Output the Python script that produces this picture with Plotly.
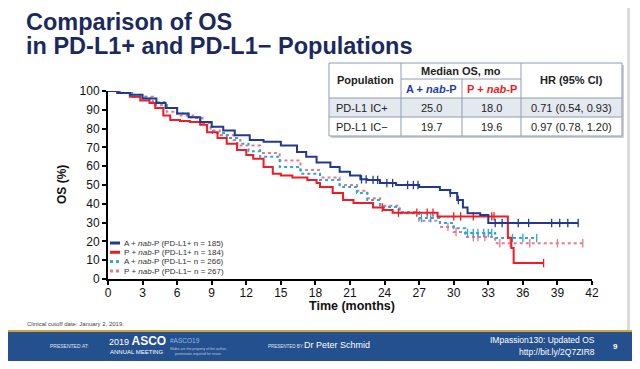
import numpy as np
import plotly.graph_objects as go

# ---------------- data ----------------
x_ticks = [0, 3, 6, 9, 12, 15, 18, 21, 24, 27, 30, 33, 36, 39, 42]
y_ticks = [0, 10, 20, 30, 40, 50, 60, 70, 80, 90, 100]

a_pos_t = [0, 0.8, 1.9, 3.0, 4.2, 5.0, 6.0, 7.0, 8.0, 9.0, 10.0, 11.0, 12.3, 13.5, 15.0, 16.4, 17.2,
           18.1, 19.3, 20.1, 21.0, 21.9, 22.5, 23.6, 25.0, 27.0, 28.8, 29.7, 30.3, 30.8, 31.2, 32.3, 33.0, 40.8]
a_pos_s = [100, 99, 98, 96, 93.6, 91, 88, 86, 83.5, 81, 79, 76.5, 74, 73, 71, 67.5, 65,
           62, 59.6, 57, 55, 53, 52.7, 51, 50, 49, 47.3, 45.7, 42, 38, 35, 34, 29.8, 29.8]
a_pos_cens = [22.0, 22.4, 23.0, 23.4, 24.2, 24.7, 26.0, 26.5, 26.9, 29.7, 30.4, 33.6, 34.2, 35.6,
              36.5, 38.5, 39.2, 39.9, 40.8]

p_pos_t = [0, 1.0, 1.9, 2.8, 3.6, 4.1, 4.8, 5.4, 6.25, 7.1, 8.0, 8.6, 9.5, 10.3, 11.2, 12.0, 12.6, 13.5,
           14.3, 15.0, 16.0, 17.3, 18.1, 18.4, 19.5, 20.4, 21.3, 23.0, 23.9, 24.7, 28.6, 34.7, 35.0, 35.2, 37.8]
p_pos_s = [100, 99, 97, 95, 93.6, 91, 87, 84.6, 84, 83.5, 82, 78, 75, 72, 68.6, 66, 64, 59.6,
           56, 55, 54, 52.7, 51, 49, 45.7, 42, 40.4, 38, 36.7, 35.3, 33.3, 22, 16.5, 8.5, 8.5]
p_pos_cens = [23.8, 25.2, 26.8, 27.7, 28.2, 30.0, 30.6, 31.7, 33.3, 33.5, 37.8]

a_neg_t = [0, 1.0, 2.2, 3.6, 5.1, 6.0, 6.9, 8.0, 8.6, 9.1, 10.3, 11.2, 12.2, 13.2, 14.9, 16.7, 18.4,
           20.1, 21.6, 22.5, 23.6, 25.3, 27.0, 28.8, 30.0, 31.0, 33.6, 37.2]
a_neg_s = [100, 99, 97, 94, 91, 88, 86, 83.5, 81, 77.7, 75, 72, 68, 65, 59.6, 56, 52.7,
           49, 45.7, 42, 38.3, 35, 32.4, 29.8, 27, 24.5, 21.8, 21.8]
a_neg_cens = [27.2, 28.0, 31.2, 31.7, 32.1, 32.6, 33.0, 33.3, 35.1, 36.0, 37.2]

p_neg_t = [0, 1.0, 2.2, 3.9, 5.1, 6.0, 7.4, 8.2, 8.9, 9.7, 10.9, 11.5, 13.2, 14.9, 16.7, 18.4, 20.1,
           21.6, 22.5, 23.6, 25.3, 27.0, 28.8, 30.0, 31.0, 33.6, 41.4]
p_neg_s = [100, 99, 97, 92.5, 89, 87, 85.6, 83, 79, 76.6, 74, 71, 67, 63, 58, 54, 50,
           47, 43, 39, 35.6, 31, 27.7, 25, 22.3, 19, 19]
p_neg_cens = [29.5, 30.2, 31.7, 32.1, 32.7, 34.0, 34.9, 36.6, 39.0, 41.2]

legend_labels = ["A + <i>nab</i>-P (PD-L1+ n = 185)", "P + <i>nab</i>-P (PD-L1+ n = 184)",
                 "A + <i>nab</i>-P (PD-L1\u2212 n = 266)", "P + <i>nab</i>-P (PD-L1\u2212 n = 267)"]

table_rows = ["PD-L1 IC+", "PD-L1 IC\u2212"]
table_a = ["25.0", "19.7"]
table_p = ["18.0", "19.6"]
table_hr = ["0.71 (0.54, 0.93)", "0.97 (0.78, 1.20)"]

# ---------------- styles ----------------
BLUE = "#22398f"
RED = "#ee1c25"
CYAN = "#2aa8e0"
PINK = "#e57b86"
NAVY = "#1b2a5e"
FONT = "Arial, Liberation Sans, sans-serif"

# the page body has an 8px margin: figure is placed at (8, 8) in the window
OFF = 8
W, H = 640 - OFF, 369 - OFF
L, R, T, B = 108 - OFF, 48, 91 - OFF, 90
PW, PH = W - L - R, H - T - B


def px(x):  # window pixel -> paper x
    return (x - OFF - L) / PW


def py(y):  # window pixel -> paper y
    return (H - B - (y - OFF)) / PH


def step_at(t, s, tc):
    t = np.asarray(t); s = np.asarray(s)
    idx = np.searchsorted(t, np.asarray(tc), side="right") - 1
    return s[idx]


fig = go.Figure()

series = [
    (p_neg_t, p_neg_s, p_neg_cens, PINK, "dot", legend_labels[3]),
    (a_neg_t, a_neg_s, a_neg_cens, CYAN, "dot", legend_labels[2]),
    (p_pos_t, p_pos_s, p_pos_cens, RED, "solid", legend_labels[1]),
    (a_pos_t, a_pos_s, a_pos_cens, BLUE, "solid", legend_labels[0]),
]
for t, s, c, col, dash, name in series:
    fig.add_trace(go.Scatter(x=t, y=s, mode="lines", line=dict(color=col, width=2, dash=dash, shape="hv"),
                             name=name, showlegend=False, hoverinfo="skip"))
    fig.add_trace(go.Scatter(x=c, y=step_at(t, s, c), mode="markers",
                             marker=dict(symbol="line-ns-open", size=6, color=col, line=dict(color=col, width=1.3)),
                             showlegend=False, hoverinfo="skip", cliponaxis=False))

shapes = []
ann = []

# title
ann.append(dict(text="<b>Comparison of OS</b>", x=px(24), y=py(22), xanchor="left", yanchor="middle",
                font=dict(size=23.5, color=NAVY, family=FONT)))
ann.append(dict(text="<b>in PD-L1+ and PD-L1\u2212 Populations</b>", x=px(24), y=py(46), xanchor="left",
                yanchor="middle", font=dict(size=23.5, color=NAVY, family=FONT)))

# axis titles
ann.append(dict(text="<b>OS (%)</b>", x=px(62), y=py(185), textangle=-90, xanchor="center", yanchor="middle",
                font=dict(size=12, color="#111", family=FONT)))
ann.append(dict(text="<b>Time (months)</b>", x=px(352), y=py(306), xanchor="center", yanchor="middle",
                font=dict(size=12.5, color="#111", family=FONT)))

# manual legend
leg_y = [243, 252.3, 261.6, 271]
leg_cols = [(BLUE, "solid"), (RED, "solid"), (CYAN, "dot"), (PINK, "dot")]
for yy, (col, dash), lab in zip(leg_y, leg_cols, legend_labels):
    shapes.append(dict(type="line", xref="paper", yref="paper", x0=px(110), x1=px(120), y0=py(yy), y1=py(yy),
                       line=dict(color=col, width=3, dash=dash)))
    ann.append(dict(text=lab, x=px(122), y=py(yy), xanchor="left", yanchor="middle",
                    font=dict(size=8, color="#333", family=FONT)))

# table
tl, tr, tt, tb = 329, 622, 63, 136
c1, c2, c3 = 401, 462, 521
hm, hb, r1b = 79, 98, 117
GRID = "#8e9cb3"
shapes.append(dict(type="rect", xref="paper", yref="paper", x0=px(tl + 2), x1=px(tr + 2), y0=py(tt + 2), y1=py(tb + 2),
                   line=dict(width=0), fillcolor="#cfcfcf", layer="above"))
shapes.append(dict(type="rect", xref="paper", yref="paper", x0=px(tl), x1=px(tr), y0=py(tt), y1=py(tb),
                   line=dict(width=0), fillcolor="white", layer="above"))
shapes.append(dict(type="rect", xref="paper", yref="paper", x0=px(tl), x1=px(tr), y0=py(hb), y1=py(r1b),
                   line=dict(width=0), fillcolor="#e4e8ef", layer="above"))
gl = dict(color=GRID, width=1)
for (x0, y0, x1, y1) in [(tl, tt, tr, tt), (tl, tb, tr, tb), (tl, tt, tl, tb), (tr, tt, tr, tb),
                         (c1, tt, c1, tb), (c3, tt, c3, tb), (c2, hm, c2, tb), (c1, hm, c3, hm),
                         (tl, hb, tr, hb), (tl, r1b, tr, r1b)]:
    shapes.append(dict(type="line", xref="paper", yref="paper", x0=px(x0), x1=px(x1), y0=py(y0), y1=py(y1),
                       line=gl, layer="above"))
TF = 11
ann.append(dict(text="<b>Population</b>", x=px((tl + c1) / 2), y=py((tt + hb) / 2), showarrow=False,
                font=dict(size=TF, color="#222", family=FONT)))
ann.append(dict(text="<b>Median OS, mo</b>", x=px((c1 + c3) / 2), y=py((tt + hm) / 2 + 0.5),
                font=dict(size=TF, color="#222", family=FONT)))
ann.append(dict(text="<b>A + <i>nab</i>-P</b>", x=px((c1 + c2) / 2), y=py((hm + hb) / 2 + 0.5),
                font=dict(size=TF, color="#1f3ea6", family=FONT)))
ann.append(dict(text="<b>P + <i>nab</i>-P</b>", x=px((c2 + c3) / 2), y=py((hm + hb) / 2 + 0.5),
                font=dict(size=TF, color=RED, family=FONT)))
ann.append(dict(text="<b>HR (95% CI)</b>", x=px((c3 + tr) / 2), y=py((tt + hb) / 2),
                font=dict(size=TF, color="#222", family=FONT)))
for i, (ry0, ry1) in enumerate([(hb, r1b), (r1b, tb)]):
    yc = py((ry0 + ry1) / 2 + 0.5)
    ann.append(dict(text=table_rows[i], x=px((tl + c1) / 2 - 3), y=yc, font=dict(size=TF, color="#222", family=FONT)))
    ann.append(dict(text=table_a[i], x=px((c1 + c2) / 2), y=yc, font=dict(size=TF, color="#222", family=FONT)))
    ann.append(dict(text=table_p[i], x=px((c2 + c3) / 2), y=yc, font=dict(size=TF, color="#222", family=FONT)))
    ann.append(dict(text=table_hr[i], x=px((c3 + tr) / 2), y=yc, font=dict(size=TF, color="#222", family=FONT)))

# right page edge strip
shapes.append(dict(type="rect", xref="paper", yref="paper", x0=px(627), x1=px(630), y0=py(0), y1=py(331),
                   line=dict(width=0), fillcolor="#dcdcdc", layer="below"))

# footer
ann.append(dict(text="Clinical cutoff date: January 2, 2019.", x=px(25), y=py(324), xanchor="left",
                font=dict(size=6, color="#444", family=FONT)))
shapes.append(dict(type="rect", xref="paper", yref="paper", x0=px(0), x1=px(640), y0=py(331), y1=py(361),
                   line=dict(width=0), fillcolor="#25508e", layer="above"))
shapes.append(dict(type="rect", xref="paper", yref="paper", x0=px(0), x1=px(640), y0=py(330), y1=py(332),
                   line=dict(width=0), fillcolor="#cfa63c", layer="above"))
WH = "white"
ann += [
    dict(text="PRESENTED AT:", x=px(48), y=py(346), xanchor="left", font=dict(size=5, color="#dfe6f0", family=FONT)),
    dict(text="2019 <b><span style='font-size:12px'>ASCO</span></b>", x=px(107), y=py(341), xanchor="left",
         font=dict(size=9, color=WH, family=FONT)),
    dict(text="ANNUAL MEETING", x=px(108), y=py(352), xanchor="left", font=dict(size=6, color=WH, family=FONT)),
    dict(text="#ASCO19", x=px(168), y=py(340), xanchor="left", font=dict(size=6.5, color="#8dbbea", family=FONT)),
    dict(text="Slides are the property of the author,<br>permission required for reuse.", x=px(168), y=py(351),
         xanchor="left", font=dict(size=3.5, color="#b9cce6", family=FONT)),
    dict(text="PRESENTED BY:", x=px(266), y=py(346), xanchor="left", font=dict(size=4.5, color="#dfe6f0", family=FONT)),
    dict(text="Dr Peter Schmid", x=px(302), y=py(345), xanchor="left", font=dict(size=9, color=WH, family=FONT)),
    dict(text="IMpassion130: Updated OS", x=px(597), y=py(340), xanchor="right", font=dict(size=8.5, color=WH, family=FONT)),
    dict(text="http://bit.ly/2Q7ZIR8", x=px(597), y=py(352), xanchor="right", font=dict(size=8.5, color=WH, family=FONT)),
    dict(text="<b>9</b>", x=px(615), y=py(346), xanchor="center", font=dict(size=8, color=WH, family=FONT)),
]

for a in ann:
    a.setdefault("xref", "paper")
    a.setdefault("yref", "paper")
    a.setdefault("showarrow", False)
    a.setdefault("xanchor", "center")
    a.setdefault("yanchor", "middle")

fig.update_layout(
    width=W, height=H, margin=dict(l=L, r=R, t=T, b=B, autoexpand=False),
    paper_bgcolor="white", plot_bgcolor="white",
    font=dict(family=FONT, color="#111"),
    showlegend=False,
    shapes=shapes, annotations=ann,
    xaxis=dict(range=[0, 42], tickvals=x_ticks, ticktext=[str(v) for v in x_ticks], showgrid=False, zeroline=False,
               showline=True, linecolor="black", linewidth=2, ticks="outside", ticklen=4, tickwidth=1.5,
               tickcolor="black", tickfont=dict(size=12, color="#111"), ticklabelstandoff=-2),
    yaxis=dict(range=[0, 100], tickvals=y_ticks, ticktext=[str(v) for v in y_ticks], showgrid=False, zeroline=False,
               showline=True, linecolor="black", linewidth=2, ticks="outside", ticklen=4, tickwidth=1.5,
               tickcolor="black", tickfont=dict(size=12, color="#111")),
)

fig.write_html("out.html")
